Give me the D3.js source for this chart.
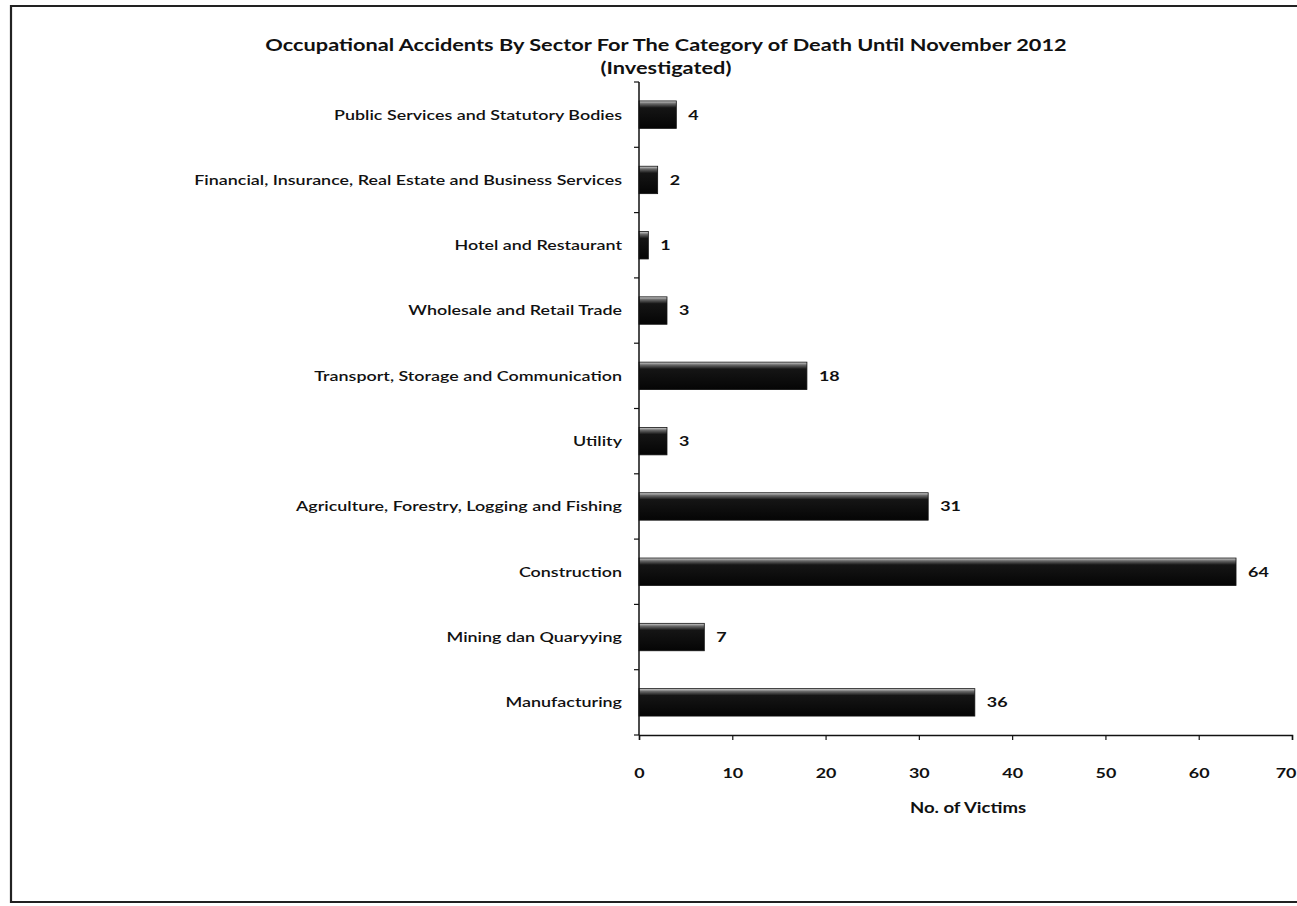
<!DOCTYPE html>
<html>
<head>
<meta charset="utf-8">
<script src="https://cdn.jsdelivr.net/npm/d3@7"></script>
<style>
  html, body { margin: 0; padding: 0; background: #fff; }
  svg { display: block; }
  text { font-family: Lato, "Open Sans", sans-serif; fill: #111; }
</style>
</head>
<body>
<svg id="chart" width="1297" height="906"></svg>
<script>
// Sectors, top to bottom as drawn
const sectors = [
  "Public Services and Statutory Bodies",
  "Financial, Insurance, Real Estate and Business Services",
  "Hotel and Restaurant",
  "Wholesale and Retail Trade",
  "Transport, Storage and Communication",
  "Utility",
  "Agriculture, Forestry, Logging and Fishing",
  "Construction",
  "Mining dan Quaryying",
  "Manufacturing"
];
const victims = [4, 2, 1, 3, 18, 3, 31, 64, 7, 36];
const xTicks = [0, 10, 20, 30, 40, 50, 60, 70];

const titleLine1 = "Occupational Accidents By Sector For The Category of Death Until November 2012";
const titleLine2 = "(Investigated)";
const xTitle = "No. of Victims";

const svg = d3.select("#chart");
const W = 1297, H = 906;
const plot = { left: 639, right: 1292, top: 82, bottom: 735 };
const stretch = 1.28; // wide lettering used throughout

// Outer frame (open on the right)
svg.append("path")
  .attr("d", `M${W},6 H11 V902 H${W}`)
  .attr("fill", "none")
  .attr("stroke", "#222")
  .attr("stroke-width", 2.2);

const x = d3.scaleLinear().domain([0, 70]).range([plot.left, plot.right]);
const y = d3.scaleBand().domain(sectors).range([plot.top, plot.bottom]).paddingInner(0.58).paddingOuter(0.29);

// Bar shading: pale top edge fading into black
const defs = svg.append("defs");
const grad = defs.append("linearGradient").attr("id", "barFill").attr("x1", 0).attr("y1", 0).attr("x2", 0).attr("y2", 1);
grad.append("stop").attr("offset", "0%").attr("stop-color", "#d8d8d8");
grad.append("stop").attr("offset", "10%").attr("stop-color", "#6a6a6a");
grad.append("stop").attr("offset", "25%").attr("stop-color", "#151515");
grad.append("stop").attr("offset", "100%").attr("stop-color", "#050505");

const data = sectors.map((s, i) => ({ sector: s, value: victims[i] }));

// Place a horizontally widened text at (px, py)
function wideText(g, px, py) {
  return g.attr("x", 0).attr("y", 0)
    .attr("transform", `translate(${px},${py}) scale(${stretch},1)`);
}

svg.append("g").selectAll("rect")
  .data(data)
  .join("rect")
  .attr("x", x(0))
  .attr("y", d => y(d.sector))
  .attr("width", d => x(d.value) - x(0))
  .attr("height", y.bandwidth())
  .attr("fill", "url(#barFill)")
  .attr("stroke", "#111")
  .attr("stroke-width", 0.8);

// Value labels
svg.append("g").selectAll("text")
  .data(data)
  .join("text")
  .attr("x", 0).attr("y", 0)
  .attr("transform", d => `translate(${x(d.value) + 12},${y(d.sector) + y.bandwidth() / 2}) scale(${stretch},1)`)
  .attr("dy", "0.35em")
  .attr("font-size", 14)
  .attr("font-weight", 700)
  .text(d => d.value);

// Y axis: line with ticks between categories
const yAxisG = svg.append("g");
yAxisG.append("line")
  .attr("x1", plot.left).attr("x2", plot.left)
  .attr("y1", plot.top).attr("y2", plot.bottom)
  .attr("stroke", "#111").attr("stroke-width", 1.5);
const boundaries = d3.range(sectors.length + 1).map(i => plot.top + i * (plot.bottom - plot.top) / sectors.length);
yAxisG.selectAll("line.tick")
  .data(boundaries)
  .join("line")
  .attr("class", "tick")
  .attr("x1", plot.left - 5).attr("x2", plot.left)
  .attr("y1", d => d).attr("y2", d => d)
  .attr("stroke", "#111").attr("stroke-width", 1.2);
yAxisG.selectAll("text")
  .data(sectors)
  .join("text")
  .attr("x", 0).attr("y", 0)
  .attr("transform", d => `translate(622,${y(d) + y.bandwidth() / 2}) scale(${stretch},1)`)
  .attr("dy", "0.35em")
  .attr("text-anchor", "end")
  .attr("font-size", 14)
  .attr("font-weight", 600)
  .text(d => d);

// X axis
const xAxis = d3.axisBottom(x).tickValues(xTicks).tickSize(5).tickPadding(0).tickFormat(d3.format("d"));
const xg = svg.append("g").attr("transform", `translate(0,${plot.bottom})`).call(xAxis);
xg.select(".domain").attr("stroke", "#111").attr("stroke-width", 1.5);
xg.selectAll(".tick line").attr("stroke", "#111").attr("stroke-width", 1.2);
xg.selectAll(".tick text")
  .attr("x", 0).attr("y", 0).attr("dy", null)
  .attr("transform", `translate(0,43) scale(${stretch},1)`)
  .attr("font-size", 14)
  .attr("font-weight", 700)
  .attr("font-family", "Lato, 'Open Sans', sans-serif")
  .attr("fill", "#111");
// The last label sits at the right edge: keep it inside the page
xg.selectAll(".tick text")
  .filter(d => d === xTicks[xTicks.length - 1])
  .attr("text-anchor", "end")
  .attr("transform", `translate(${W - 1 - x(xTicks[xTicks.length - 1])},43) scale(${stretch},1)`);

// Axis title
wideText(svg.append("text"), 968, 813)
  .attr("text-anchor", "middle")
  .attr("font-size", 14.5)
  .attr("font-weight", 700)
  .text(xTitle);

// Chart title
wideText(svg.append("text"), 666, 51)
  .attr("text-anchor", "middle")
  .attr("font-size", 17)
  .attr("font-weight", 700)
  .text(titleLine1);
wideText(svg.append("text"), 666, 74)
  .attr("text-anchor", "middle")
  .attr("font-size", 17)
  .attr("font-weight", 700)
  .text(titleLine2);
</script>
</body>
</html>
